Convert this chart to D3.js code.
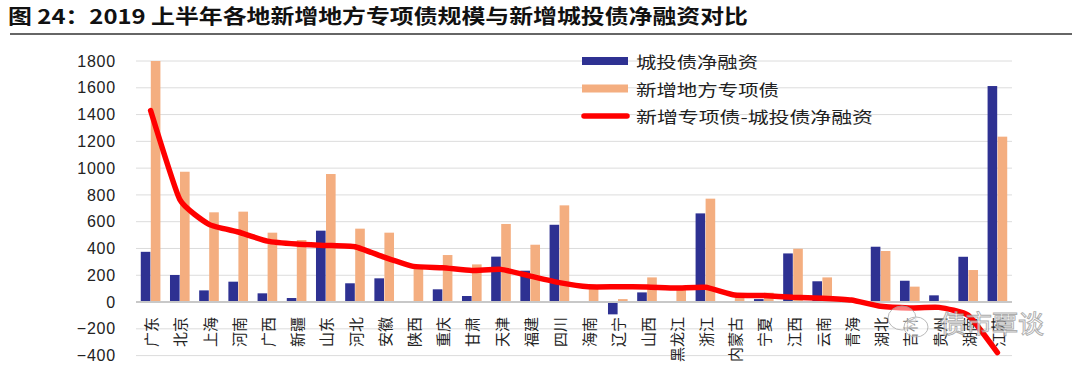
<!DOCTYPE html>
<html lang="zh">
<head>
<meta charset="UTF-8">
<script src="https://d3js.org/d3.v7.min.js"></script>
<style>
  body { margin: 0; background: #fff; }
  svg { display: block; }
  .cjk { font-family: "Noto Sans CJK SC", sans-serif; }
  .num { font-family: "Liberation Sans", Arial, sans-serif; }
</style>
</head>
<body>
<div id="chart"></div>
<script>
// Data (亿元)
const provinces = ["广东","北京","上海","河南","广西","新疆","山东","河北","安徽","陕西",
  "重庆","甘肃","天津","福建","四川","海南","辽宁","山西","黑龙江","浙江",
  "内蒙古","宁夏","江西","云南","青海","湖北","吉林","贵州","湖南","江苏"];
const chengtouNet = [375,202,87,152,65,30,533,140,177,0,
  95,45,339,234,577,0,-92,72,0,662,
  3,22,363,155,0,413,159,50,338,1613];
const newSpecial = [1800,973,670,675,518,463,956,548,518,264,
  351,281,583,428,722,114,22,184,104,772,
  55,70,398,184,15,381,115,10,239,1235];
const gap = [1430,765,580,523,455,433,423,413,335,266,
  256,236,244,194,145,114,114,112,104,110,
  52,48,35,29,15,-32,-44,-40,-99,-378];
const yTicks = [-400,-200,0,200,400,600,800,1000,1200,1400,1600,1800];
const seriesNames = ["城投债净融资", "新增地方专项债", "新增专项债-城投债净融资"];

const width = 1080, height = 371;
const plot = { left: 136, right: 1012, top: 61, bottom: 355.6 };

const svg = d3.select("#chart").append("svg")
  .attr("width", width).attr("height", height);

// Title
svg.append("text")
  .attr("class", "cjk")
  .attr("x", 8).attr("y", 24)
  .attr("font-size", 20).attr("font-weight", "bold")
  .attr("textLength", 740).attr("lengthAdjust", "spacingAndGlyphs")
  .attr("fill", "#111")
  .text("图 24：2019 上半年各地新增地方专项债规模与新增城投债净融资对比");
svg.append("line")
  .attr("x1", 10).attr("x2", 1072).attr("y1", 34).attr("y2", 34)
  .attr("stroke", "#333").attr("stroke-width", 1.5);

// Scales
const x = d3.scaleBand().domain(provinces)
  .range([plot.left, plot.right]).paddingInner(0.3).paddingOuter(0.15);
const xSub = d3.scaleBand().domain([0, 1]).range([0, x.bandwidth()]).padding(0.04);
const y = d3.scaleLinear().domain([-400, 1800]).range([plot.bottom, plot.top]);

// Grid
svg.append("g").selectAll("line").data(yTicks.filter(d => d !== 0)).join("line")
  .attr("x1", plot.left).attr("x2", plot.right)
  .attr("y1", d => y(d)).attr("y2", d => y(d))
  .attr("stroke", "#dcdcdc").attr("stroke-width", 1);

// Y axis labels
const yAxis = svg.append("g")
  .attr("transform", `translate(${plot.left},0)`)
  .call(d3.axisLeft(y).tickValues(yTicks).tickFormat(d3.format("d")).tickSize(0).tickPadding(20));
yAxis.select(".domain").remove();
yAxis.selectAll("text")
  .attr("class", "num")
  .attr("font-size", 16)
  .attr("letter-spacing", 0.8)
  .attr("fill", "#222");

// Bars
const bars = svg.append("g");
bars.selectAll("rect.ct").data(provinces).join("rect")
  .attr("class", "ct")
  .attr("x", (d) => x(d) + xSub(0))
  .attr("width", xSub.bandwidth())
  .attr("y", (d, i) => y(Math.max(0, chengtouNet[i])))
  .attr("height", (d, i) => Math.abs(y(chengtouNet[i]) - y(0)))
  .attr("fill", "#2E3192");
bars.selectAll("rect.zx").data(provinces).join("rect")
  .attr("class", "zx")
  .attr("x", (d) => x(d) + xSub(1))
  .attr("width", xSub.bandwidth())
  .attr("y", (d, i) => y(Math.max(0, newSpecial[i])))
  .attr("height", (d, i) => Math.abs(y(newSpecial[i]) - y(0)))
  .attr("fill", "#F4AE80");

// Zero line
svg.append("line")
  .attr("x1", plot.left).attr("x2", plot.right)
  .attr("y1", y(0)).attr("y2", y(0))
  .attr("stroke", "#c8c8c8").attr("stroke-width", 2);

// X labels (rotated, read bottom to top)
svg.append("g").selectAll("text").data(provinces).join("text")
  .attr("class", "cjk")
  .attr("transform", d => `translate(${x(d) + x.bandwidth() / 2},317) rotate(-90)`)
  .attr("text-anchor", "end")
  .attr("dominant-baseline", "central")
  .attr("font-size", 15)
  .attr("fill", "#222")
  .text(d => d);

// Gap line
const line = d3.line()
  .x((d, i) => x(provinces[i]) + x.bandwidth() / 2)
  .y(d => y(d))
  .curve(d3.curveCardinal.tension(0.55));
svg.append("path").datum(gap)
  .attr("d", line)
  .attr("fill", "none").attr("stroke", "#FF0000")
  .attr("stroke-width", 5.5).attr("stroke-linecap", "round").attr("stroke-linejoin", "round");

// Watermark (sits on top of the line in the original)
const wm = svg.append("g").attr("opacity", 0.8);
wm.append("ellipse").attr("cx", 902).attr("cy", 318).attr("rx", 14).attr("ry", 12)
  .attr("fill", "#fff").attr("fill-opacity", 0.6).attr("stroke", "#aaa").attr("stroke-width", 1);
wm.append("ellipse").attr("cx", 916).attr("cy", 327).attr("rx", 12).attr("ry", 10)
  .attr("fill", "#fff").attr("fill-opacity", 0.6).attr("stroke", "#aaa").attr("stroke-width", 1);
wm.append("text").attr("class", "cjk")
  .attr("x", 940).attr("y", 333)
  .attr("font-size", 25).attr("textLength", 104).attr("lengthAdjust", "spacingAndGlyphs")
  .attr("fill", "#fff").attr("stroke", "#999").attr("stroke-width", 0.9)
  .text("债市覃谈");

// Legend
const legend = svg.append("g");
const lenRows = [122, 143, 237];
const colors = ["#2E3192", "#F4AE80", "#FF0000"];
seriesNames.forEach((name, i) => {
  const cy = 61 + i * 27.5;
  if (i < 2) {
    legend.append("rect").attr("x", 582).attr("y", cy - 4).attr("width", 46).attr("height", 8)
      .attr("fill", colors[i]);
  } else {
    legend.append("line").attr("x1", 584).attr("x2", 627).attr("y1", cy).attr("y2", cy)
      .attr("stroke", colors[i]).attr("stroke-width", 5.5).attr("stroke-linecap", "round");
  }
  legend.append("text").attr("class", "cjk")
    .attr("x", 636).attr("y", cy)
    .attr("dominant-baseline", "central")
    .attr("font-size", 16)
    .attr("textLength", lenRows[i]).attr("lengthAdjust", "spacingAndGlyphs")
    .attr("fill", "#222")
    .text(name);
});
</script>
</body>
</html>
